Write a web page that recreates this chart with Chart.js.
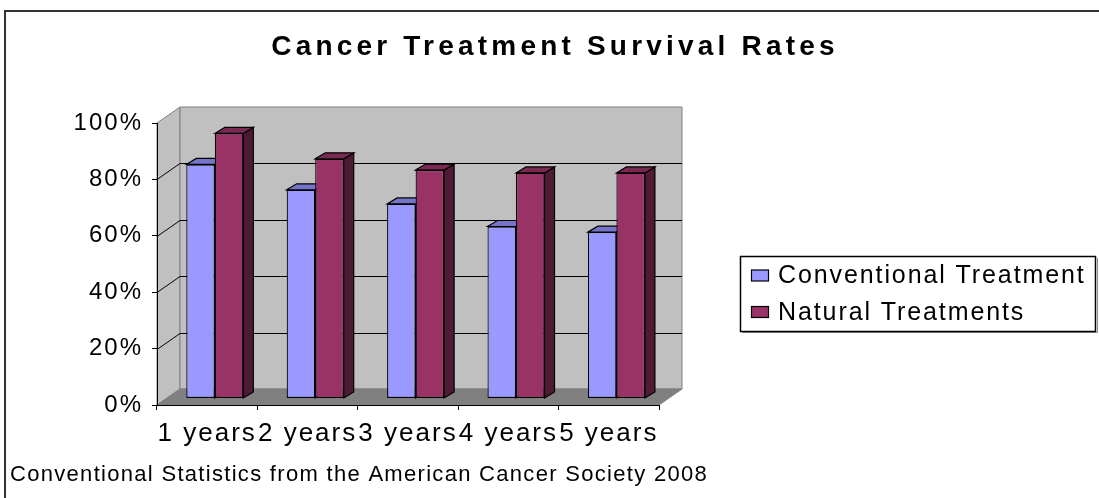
<!DOCTYPE html>
<html>
<head>
<meta charset="utf-8">
<script src="https://cdn.jsdelivr.net/npm/chart.js@4.4.1/dist/chart.umd.min.js"></script>
<style>
  html, body { margin: 0; padding: 0; background: #fff; }
  #wrap { width: 1099px; height: 498px; position: relative; }
</style>
</head>
<body>
<div id="wrap"><canvas id="grafico"></canvas></div>
<script>
// Datos
const categorias = ["1 years", "2 years", "3 years", "4 years", "5 years"];
const convencional = [83, 74, 69, 61, 59];
const natural = [94, 85, 81, 80, 80];
const series = ["Conventional Treatment", "Natural Treatments"];
const titulo = "Cancer Treatment Survival Rates";
const nota = "Conventional Statistics from the American Cancer Society 2008";

const FONT = "'Liberation Sans', Arial, sans-serif";
const PROF = { dx: 23, dy: -16 };                        // fondo de la caja 3D
const BARRA = { dx: 7.6, dy: -6.5, px: 10, py: -6 };      // barras a media profundidad

function poly(ctx, pts){
  ctx.beginPath();
  pts.forEach(([x, y], i) => i ? ctx.lineTo(x, y) : ctx.moveTo(x, y));
  ctx.closePath();
}

// Paredes, piso, caras 3D, título, leyenda y nota
const caja3d = {
  id: "caja3d",
  beforeLayout(chart){ chart.ctx.letterSpacing = "2px"; },
  beforeDraw(chart){
    const { ctx, chartArea: a, scales: { y } } = chart;
    ctx.letterSpacing = "2px";
    const { dx, dy } = PROF;
    ctx.save();
    ctx.lineWidth = 1;
    ctx.fillStyle = "#C0C0C0";
    ctx.strokeStyle = "#808080";
    // pared lateral
    poly(ctx, [[a.left, a.top], [a.left + dx, a.top + dy], [a.left + dx, a.bottom + dy], [a.left, a.bottom]]);
    ctx.fill(); ctx.stroke();
    // pared del fondo
    ctx.beginPath();
    ctx.rect(a.left + dx, a.top + dy, a.right - a.left, a.bottom - a.top);
    ctx.fill(); ctx.stroke();
    // cuadrícula sobre las paredes
    ctx.strokeStyle = "#000";
    y.ticks.forEach(t => {
      if (t.value === y.min || t.value === y.max) return;
      const py = Math.round(y.getPixelForValue(t.value)) + 0.5;
      ctx.beginPath();
      ctx.moveTo(a.left, py);
      ctx.lineTo(a.left + dx, py + dy);
      ctx.lineTo(a.right + dx, py + dy);
      ctx.stroke();
    });
    // piso
    ctx.fillStyle = "#808080";
    ctx.strokeStyle = "#808080";
    poly(ctx, [[a.left, a.bottom], [a.right, a.bottom], [a.right + dx, a.bottom + dy], [a.left + dx, a.bottom + dy]]);
    ctx.fill(); ctx.stroke();
    ctx.restore();
  },
  beforeDatasetsDraw(chart){
    const ctx = chart.ctx;
    ctx.save();
    ctx.translate(BARRA.dx, BARRA.dy);
    const { px, py } = BARRA;
    chart.data.datasets.forEach((ds, i) => {
      chart.getDatasetMeta(i).data.forEach(bar => {
        const l = bar.x - bar.width / 2, r = bar.x + bar.width / 2, t = bar.y, b = bar.base;
        ctx.lineWidth = 1.2;
        ctx.strokeStyle = "#000";
        ctx.fillStyle = ds.sideColor;
        poly(ctx, [[r, t], [r + px, t + py], [r + px, b + py], [r, b]]);
        ctx.fill(); ctx.stroke();
        ctx.fillStyle = ds.topColor;
        poly(ctx, [[l, t], [l + px, t + py], [r + px, t + py], [r, t]]);
        ctx.fill(); ctx.stroke();
      });
    });
  },
  afterDatasetsDraw(chart){
    chart.ctx.restore();
  },
  afterDraw(chart){
    const ctx = chart.ctx;
    ctx.save();
    ctx.fillStyle = "#000";
    ctx.textAlign = "left";
    ctx.textBaseline = "alphabetic";

    // título
    ctx.font = `bold 28px ${FONT}`;
    ctx.letterSpacing = "4.2px";
    ctx.textAlign = "center";
    ctx.fillText(titulo, 555, 55);

    // leyenda con marco
    ctx.textAlign = "left";
    ctx.strokeStyle = "#909090";
    ctx.lineWidth = 1;
    ctx.beginPath();
    ctx.moveTo(742, 332.5); ctx.lineTo(1097.5, 332.5); ctx.lineTo(1097.5, 258);
    ctx.stroke();
    ctx.strokeStyle = "#000";
    ctx.lineWidth = 1.5;
    ctx.strokeRect(740.5, 256.5, 355, 75);
    ctx.font = `25px ${FONT}`;
    ctx.letterSpacing = "1.9px";
    const filas = [283, 319.5];
    chart.data.datasets.forEach((ds, i) => {
      const yb = filas[i];
      ctx.fillStyle = ds.backgroundColor;
      ctx.fillRect(751.5, yb - 13, 17, 11);
      ctx.lineWidth = 1.2;
      ctx.strokeStyle = "#000";
      ctx.strokeRect(751.5, yb - 13, 17, 11);
      ctx.fillStyle = "#000";
      ctx.fillText(ds.label, 778, yb);
    });

    // nota al pie
    ctx.font = `22px ${FONT}`;
    ctx.letterSpacing = "1.3px";
    ctx.fillText(nota, 10, 481);

    // borde exterior
    ctx.strokeStyle = "#333";
    ctx.lineWidth = 2;
    ctx.strokeRect(5, 11, 1200, 600);
    ctx.restore();
  }
};

new Chart(document.getElementById("grafico").getContext("2d"), {
  type: "bar",
  data: {
    labels: categorias,
    datasets: [
      { label: series[0], data: convencional, backgroundColor: "#9999FF", topColor: "#7474C8", sideColor: "#5E5EA8",
        borderColor: "#000", borderWidth: 1.2, borderSkipped: false, clip: false },
      { label: series[1], data: natural, backgroundColor: "#993366", topColor: "#7A2952", sideColor: "#4E1A34",
        borderColor: "#000", borderWidth: 1.2, borderSkipped: false, clip: false }
    ]
  },
  options: {
    responsive: true,
    maintainAspectRatio: false,
    animation: false,
    devicePixelRatio: 1,
    categoryPercentage: 0.568,
    barPercentage: 1,
    layout: { padding: { top: 123, right: 440, left: 0, bottom: 0 } },
    plugins: { legend: { display: false }, title: { display: false }, tooltip: { enabled: false } },
    scales: {
      x: {
        grid: { display: true, drawOnChartArea: false, drawTicks: true, tickLength: 5, color: "#000", offset: true },
        border: { display: true, color: "#000", width: 1 },
        ticks: { color: "#000", font: { family: FONT, size: 26 }, padding: 8, maxRotation: 0, minRotation: 0, autoSkip: false },
        afterFit(s){ s.height = 93; }
      },
      y: {
        min: 0, max: 100,
        grid: { display: true, drawOnChartArea: false, drawTicks: true, tickLength: 5, color: "#000" },
        border: { display: true, color: "#000", width: 1 },
        ticks: { stepSize: 20, color: "#000", font: { family: FONT, size: 24 }, padding: 9,
                 callback: v => v + "%" },
        afterFit(s){ s.width = 157; }
      }
    }
  },
  plugins: [caja3d]
});
</script>
</body>
</html>
